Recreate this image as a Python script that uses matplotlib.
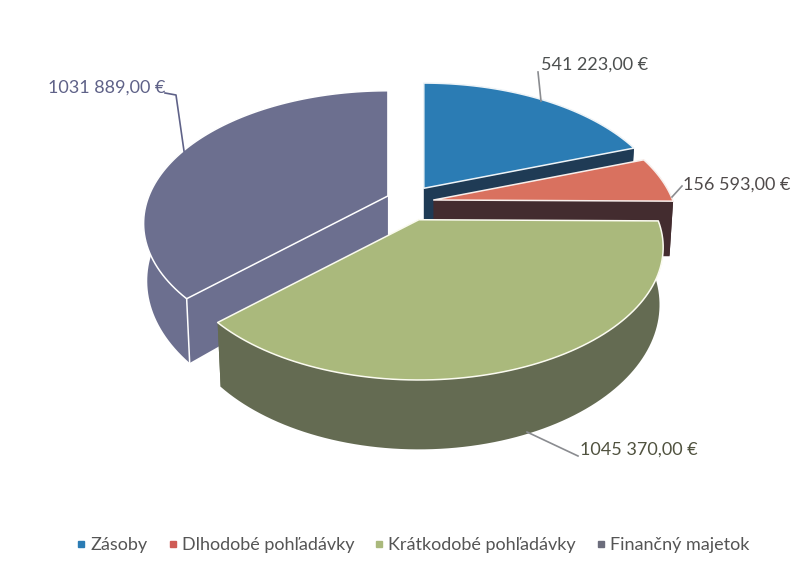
import numpy as np
import matplotlib
matplotlib.use('Agg')
import matplotlib.pyplot as plt
from matplotlib.lines import Line2D

categories = ['Zásoby', 'Dlhodobé pohľadávky', 'Krátkodobé pohľadávky', 'Finančný majetok']
values = [541223.00, 156593.00, 1045370.00, 1031889.00]
top_colors = ['#2b7cb4', '#d9715f', '#aab97c', '#6c6f8f']
wall_colors = ['#1f3b55', '#432c2f', '#646b52', '#6c6f8f']
edge_colors = ['#eef4f8', '#f8efec', '#fbfbf0', '#ffffff']
legend_colors = ['#2b7cb4', '#cf5b55', '#aab97c', '#6c6d7c']
label_colors = ['#4c4f4f', '#4f4a4a', '#50523f', '#5f6288']
label_xy = [(541, 65), (683, 185), (580, 450), (48, 88)]
leaders = [[(538, 72), (541, 101)],
           [(682, 186), (672, 197)],
           [(578, 456), (527, 432)],
           [(165, 93), (176, 95), (184, 151)]]
draw_order = [3, 0, 1, 2]

CX, CY = 410, 203
EXPL_X, EXPL_Y = 24, 18
RX, RY, K = 239, 127, 0.2075
DEPTH = 55
SHRINK = 0.985


def main():
    plt.rcParams['font.family'] = ['Lato', 'DejaVu Sans']
    fig = plt.figure(figsize=(7.92, 5.76), dpi=100)
    ax = fig.add_axes([0, 0, 1, 1])
    ax.set_xlim(0, 792)
    ax.set_ylim(576, 0)
    ax.axis('off')

    fracs = np.array(values) / sum(values) * 2 * np.pi
    ends = np.cumsum(fracs)
    starts = ends - fracs
    # back slice first, the green one has to lie over the others
    for z, i in enumerate(draw_order):
        draw_slice(ax, i, starts[i], ends[i], z + 1)

    for i in range(len(values)):
        ax.text(*label_xy[i], fmt_value(values[i]), color=label_colors[i], fontsize=13, va='center', ha='left')
        pts = np.array(leaders[i])
        ax.plot(pts[:, 0], pts[:, 1], color='#8a8c90' if i != 3 else '#5f6288', lw=1.2, zorder=20)

    handles = [Line2D([], [], ls='', marker='s', ms=4, color=c) for c in legend_colors]
    ax.legend(handles, categories, ncol=4, frameon=False, fontsize=13, labelcolor='#555555',
              loc='center', bbox_to_anchor=(411, 545), bbox_transform=ax.transData,
              handletextpad=0.0, columnspacing=0.9, handlelength=1.0)
    fig.savefig('out.png', dpi=100)
    print('donzo')


def fmt_value(v):
    # only the last group is split off in the source, 1031 889,00 €
    whole, dec = f'{v:.2f}'.split('.')
    return f'{whole[:-3]} {whole[-3:]},{dec} €'


def project(theta, apex, bottom=False):
    # theta is clockwise from 12 o'clock, simple perspective on the disc
    u, v = np.sin(theta), np.cos(theta)
    s = 1 / (1 + K * v)
    x, y = RX * u * s, -RY * v * s
    if bottom:
        return apex[0] + SHRINK * x, apex[1] + y + DEPTH * s
    return apex[0] + x, apex[1] + y


def draw_slice(ax, i, start, end, z):
    mid = (start + end) / 2
    apex = (CX + EXPL_X * np.sin(mid), CY - EXPL_Y * np.cos(mid))
    low = (apex[0], apex[1] + DEPTH)
    th = np.linspace(start, end, 90)
    xt, yt = project(th, apex)
    xb, yb = project(th, apex, bottom=True)
    wall = wall_colors[i]

    # cut faces
    for a in (start, end):
        xa, ya = project(a, apex)
        xc, yc = project(a, apex, bottom=True)
        ax.fill([apex[0], xa, xc, low[0]], [apex[1], ya, yc, low[1]], color=wall, lw=0, zorder=z)
    # outer wall
    ax.fill(np.r_[xt, xb[::-1]], np.r_[yt, yb[::-1]], color=wall, lw=0, zorder=z)
    # top
    ax.fill(np.r_[apex[0], xt], np.r_[apex[1], yt], facecolor=top_colors[i], edgecolor=edge_colors[i],
            lw=1.1, joinstyle='round', zorder=z)
    if i == 3:
        # purple has one colour everywhere, only white lines show the corner
        xa, ya = project(start, apex)
        xc, yc = project(start, apex, bottom=True)
        ax.plot([xa, xc], [ya, yc], color=edge_colors[i], lw=1.1, zorder=z)


if __name__ == '__main__':
    main()
